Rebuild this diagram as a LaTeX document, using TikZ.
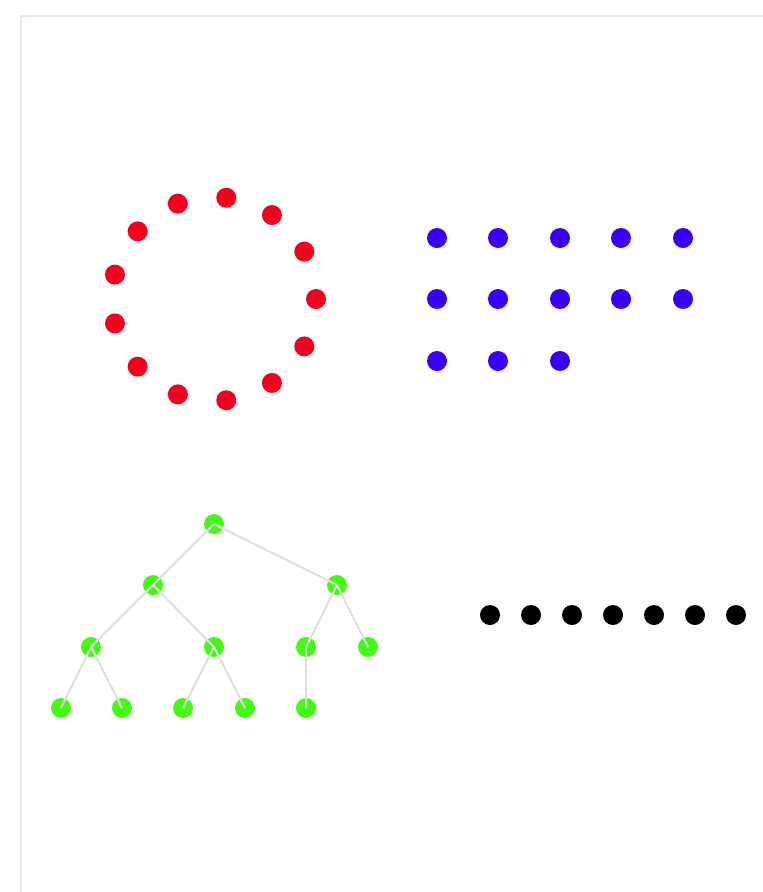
\documentclass[tikz,border=0pt]{standalone}
\usepackage{xcolor}
\usetikzlibrary{calc}
\definecolor{ringred}{RGB}{242,0,30}
\definecolor{gridblue}{RGB}{58,0,245}
\definecolor{treegreen}{RGB}{68,250,20}
\definecolor{edgegray}{RGB}{222,222,222}
\definecolor{framegray}{RGB}{226,233,242}

\begin{document}
\begin{tikzpicture}[x=1pt, y=-1pt, dot/.style={circle, inner sep=0pt, minimum size=20pt, draw=none}, edge/.style={draw=edgegray, line width=2pt}]
	\useasboundingbox (0,0) rectangle (763,892);
	\draw[framegray, line width=2pt] (21,892) -- (21,16) -- (763,16);

	% ring
	\coordinate (ringctr) at (214,299);
	\foreach \k in {0,...,12}
		\node[dot, fill=ringred] (ring\k) at ($(ringctr)+({-\k*360/13}:102)$) {};

	% grid
	\foreach \k/\gx/\gy in {0/437/238, 1/498/238, 2/560/238, 3/621/238, 4/683/238,
			5/437/299, 6/498/299, 7/560/299, 8/621/299, 9/683/299,
			10/437/361, 11/498/361, 12/560/361}
		\node[dot, fill=gridblue] (grid\k) at (\gx,\gy) {};

	% row
	\foreach \k in {0,...,6}
		\node[dot, fill=black] (row\k) at (490+\k*41,615) {};

	% tree
	\node[dot, fill=treegreen] (root) at (214,524) {};
	\node[dot, fill=treegreen] (l) at (153,585) {};
	\node[dot, fill=treegreen] (r) at (337,585) {};
	\node[dot, fill=treegreen] (ll) at (91,647) {};
	\node[dot, fill=treegreen] (lr) at (214,647) {};
	\node[dot, fill=treegreen] (rl) at (306,647) {};
	\node[dot, fill=treegreen] (rr) at (368,647) {};
	\node[dot, fill=treegreen] (lll) at (61,708) {};
	\node[dot, fill=treegreen] (llr) at (122,708) {};
	\node[dot, fill=treegreen] (lrl) at (183,708) {};
	\node[dot, fill=treegreen] (lrr) at (245,708) {};
	\node[dot, fill=treegreen] (rll) at (306,708) {};

	\draw[edge] (root.center) -- (l.center);
	\draw[edge] (root.center) -- (r.center);
	\draw[edge] (l.center) -- (ll.center);
	\draw[edge] (l.center) -- (lr.center);
	\draw[edge] (r.center) -- (rl.center);
	\draw[edge] (r.center) -- (rr.center);
	\draw[edge] (ll.center) -- (lll.center);
	\draw[edge] (ll.center) -- (llr.center);
	\draw[edge] (lr.center) -- (lrl.center);
	\draw[edge] (lr.center) -- (lrr.center);
	\draw[edge] (rl.center) -- (rll.center);
\end{tikzpicture}
\end{document}
